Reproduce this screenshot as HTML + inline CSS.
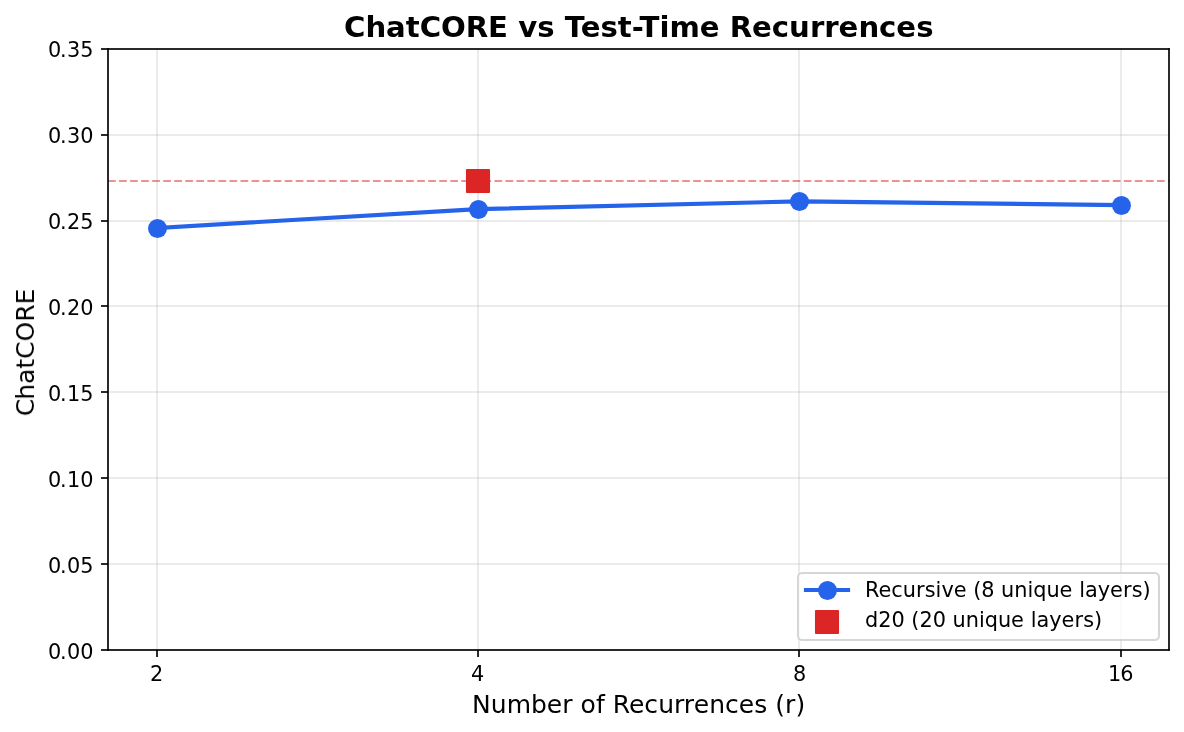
<!DOCTYPE html>
<html lang="en"><head><meta charset="utf-8"><title>ChatCORE vs Test-Time Recurrences</title>
<style>
html,body{margin:0;padding:0;background:#fff;}
body{width:1184px;height:732px;overflow:hidden;}
svg{display:block;}
text{font-family:"DejaVu Sans", "Liberation Sans", sans-serif;fill:#000;}
.t10{font-size:20.8333px;} .t12{font-size:25.0px;} .t14{font-size:29.1667px;font-weight:bold;}
</style></head><body>
<svg width="1184" height="732" viewBox="0 0 1184 732">
<rect x="0" y="0" width="1184" height="732" fill="#ffffff"/>
<g stroke="#b0b0b0" stroke-opacity="0.3" stroke-width="1.6667" fill="none">
<line x1="157" y1="48.7" x2="157" y2="650.2"/>
<line x1="478" y1="48.7" x2="478" y2="650.2"/>
<line x1="799" y1="48.7" x2="799" y2="650.2"/>
<line x1="1121" y1="48.7" x2="1121" y2="650.2"/>
</g>
<g fill="#b0b0b0" fill-opacity="0.25">
<rect x="108.39" y="134" width="1060.62" height="2"/>
<rect x="108.39" y="220" width="1060.62" height="2"/>
<rect x="108.39" y="305" width="1060.62" height="2"/>
<rect x="108.39" y="391" width="1060.62" height="2"/>
<rect x="108.39" y="477" width="1060.62" height="2"/>
<rect x="108.39" y="563" width="1060.62" height="2"/>
</g>
<line x1="108" y1="181.0" x2="1169.01" y2="181.0" stroke="#dc2626" stroke-opacity="0.5" stroke-width="2.0833" stroke-dasharray="7.7083 3.3333"/>
<polyline points="156.6,228.0 478.0,209.11 799.4,201.38 1120.8,205.16" fill="none" stroke="#2563eb" stroke-width="4.1667" stroke-linejoin="round" stroke-linecap="square"/>
<circle cx="157.5" cy="228.5" r="9.45" fill="#2563eb"/>
<circle cx="478.5" cy="209.5" r="9.45" fill="#2563eb"/>
<circle cx="799.5" cy="201.5" r="9.45" fill="#2563eb"/>
<circle cx="1121.5" cy="205.5" r="9.45" fill="#2563eb"/>
<rect x="465.955" y="168.955" width="24.09" height="24.09" rx="1.0" fill="#dc2626"/>
<g stroke="#000" stroke-width="1.6667" fill="none" stroke-linecap="butt">
<line x1="157" y1="650" x2="157" y2="657"/>
<line x1="478" y1="650" x2="478" y2="657"/>
<line x1="799" y1="650" x2="799" y2="657"/>
<line x1="1121" y1="650" x2="1121" y2="657"/>
<path d="M108 650.833 L108 48.167" />
<path d="M1169 650.833 L1169 48.167" />
</g>
<g fill="#000" fill-opacity="0.835">
<rect x="101" y="48" width="7" height="2"/>
<rect x="101" y="134" width="7" height="2"/>
<rect x="101" y="220" width="7" height="2"/>
<rect x="101" y="305" width="7" height="2"/>
<rect x="101" y="391" width="7" height="2"/>
<rect x="101" y="477" width="7" height="2"/>
<rect x="101" y="563" width="7" height="2"/>
<rect x="101" y="649" width="7" height="2"/>
<rect x="107.167" y="649" width="1062.667" height="2"/>
<rect x="107.167" y="48" width="1062.667" height="2"/>
</g>
<g opacity="0.999">
<text class="t10" x="47.94 59.97 67.01 80.15" y="57">0.35</text>
<text class="t10" x="47.94 59.97 66.93 80.19" y="143">0.30</text>
<text class="t10" x="47.94 59.97 66.92 80.15" y="229">0.25</text>
<text class="t10" x="47.94 59.97 66.92 80.19" y="315">0.20</text>
<text class="t10" x="47.94 59.97 66.95 80.15" y="401">0.15</text>
<text class="t10" x="47.94 59.97 66.88 80.19" y="487">0.10</text>
<text class="t10" x="47.94 59.97 66.95 80.15" y="573">0.05</text>
<text class="t10" x="47.94 59.97 66.88 80.19" y="659">0.00</text>
<text class="t10" x="149.91" y="681.0">2</text>
<text class="t10" x="470.91" y="681.0">4</text>
<text class="t10" x="792.92" y="681.0">8</text>
<text class="t10" x="1107.90 1120.17" y="681.0">16</text>
<text class="t12" x="471.94 490.63 506.67 530.90 546.72 562.17 572.57 580.39 595.92 604.61 612.65 628.92 644.16 658.18 673.89 683.85 693.64 709.19 724.90 738.67 754.19 766.71 775.16 784.90 795.51" y="713.0">Number of Recurrences (r)</text>
<text class="t12" transform="translate(34.0,417.2) rotate(-90)" x="0.96 17.42 33.14 48.46 58.21 75.72 95.40 112.67" y="0">ChatCORE</text>
<text class="t14" x="343.89 365.43 385.97 405.74 419.66 440.91 465.66 487.95 508.09 518.19 537.32 554.55 564.67 580.84 600.39 617.72 631.74 639.45 659.43 669.42 699.65 719.48 729.68 752.10 771.80 788.88 809.94 824.36 838.41 858.43 878.88 896.13 916.16" y="37.0">ChatCORE vs Test-Time Recurrences</text>
</g>
<rect x="798.0" y="573.0" width="361.00" height="67.00" rx="4.2" fill="#ffffff" fill-opacity="0.8" stroke="#cccccc" stroke-opacity="0.8" stroke-width="2.0833"/>
<line x1="806.0" y1="590.0" x2="848.0" y2="590.0" stroke="#2563eb" stroke-width="4.1667" stroke-linecap="square"/>
<circle cx="827.5" cy="590.5" r="9.45" fill="#2563eb"/>
<rect x="814.955" y="609.955" width="24.09" height="24.09" rx="1.0" fill="#dc2626"/>
<g opacity="0.999">
<text class="t10" x="864.91 878.58 891.18 902.65 915.95 924.64 935.54 941.40 953.73 966.26 973.15 981.15 994.33 1001.04 1014.16 1027.49 1033.15 1046.40 1059.41 1072.55 1079.14 1084.90 1097.65 1110.02 1122.88 1131.76 1142.39" y="597.0">Recursive (8 unique layers)</text>
<text class="t10" x="864.92 878.24 891.43 904.44 911.17 919.54 932.64 945.79 952.38 965.67 978.90 984.67 997.92 1010.93 1024.01 1030.64 1036.47 1049.18 1061.56 1074.58 1083.14 1093.91" y="627.0">d20 (20 unique layers)</text>
</g>
</svg></body></html>
